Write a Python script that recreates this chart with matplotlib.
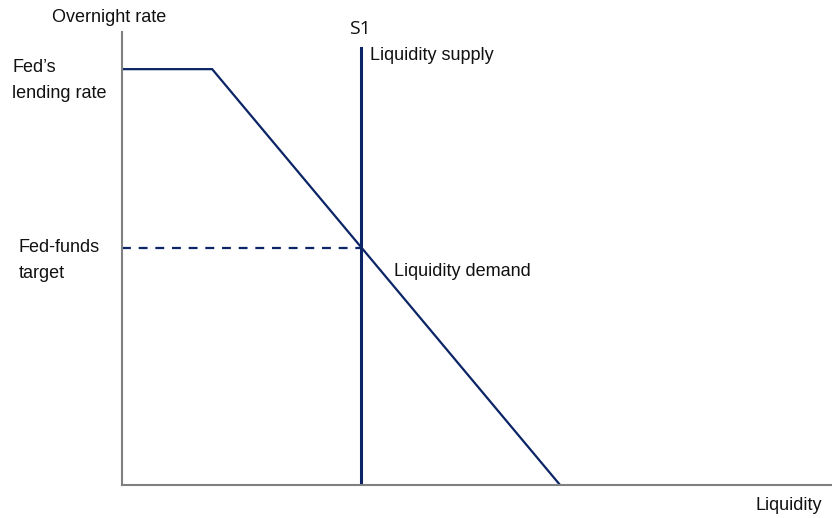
import matplotlib
matplotlib.use("Agg")
import matplotlib.pyplot as plt

plt.rcParams['font.family'] = ['Liberation Sans', 'DejaVu Sans']

# demand curve: flat at the lending rate, then sloping down to zero
demand_x = [0.0, 1.27, 6.17]
demand_y = [9.18, 9.18, 0.0]
# vertical liquidity supply S1
supply_x = 3.37
supply_top = 9.65
# fed-funds target rate
target_rate = 5.23

navy = "#0b2466"

fig = plt.figure(figsize=(8.32, 5.18), dpi=100)
W, H = 832, 518
ax = fig.add_axes([122 / W, (H - 485) / H, (832 - 122) / W, (485 - 32) / H])
ax.set_xlim(0, 10)
ax.set_ylim(0, 10)

ax.plot(demand_x, demand_y, color=navy, lw=1.6, solid_joinstyle='miter')
ax.plot([supply_x, supply_x], [0, supply_top], color=navy, lw=2.2)
ax.plot([0, supply_x], [target_rate, target_rate], color=navy, lw=1.6,
        dashes=(4, 3.5))

for s in ['top', 'right']:
    ax.spines[s].set_visible(False)
for s in ['left', 'bottom']:
    ax.spines[s].set_color('#808080')
    ax.spines[s].set_linewidth(1.5)
ax.set_xticks([])
ax.set_yticks([])


def ftext(x, y, s, **kw):
    fig.text(x / W, 1 - y / H, s, fontsize=13, color='#111111', va='center', **kw)


ftext(52, 18, "Overnight rate")
ftext(12, 67, "Fed\u2019s")
ftext(12, 94, "lending rate")
ftext(19, 247, "Fed-funds")
ftext(19, 273, "target")
ftext(370, 56, "Liquidity supply")
ftext(394, 272, "Liquidity demand")
ftext(822, 505, "Liquidity", ha='right')
fig.text(360 / W, 1 - 29 / H, "S1", fontsize=14, family=['Open Sans', 'DejaVu Sans'],
         color='#111111', ha='center', va='center')

fig.savefig("out.png", dpi=100)
